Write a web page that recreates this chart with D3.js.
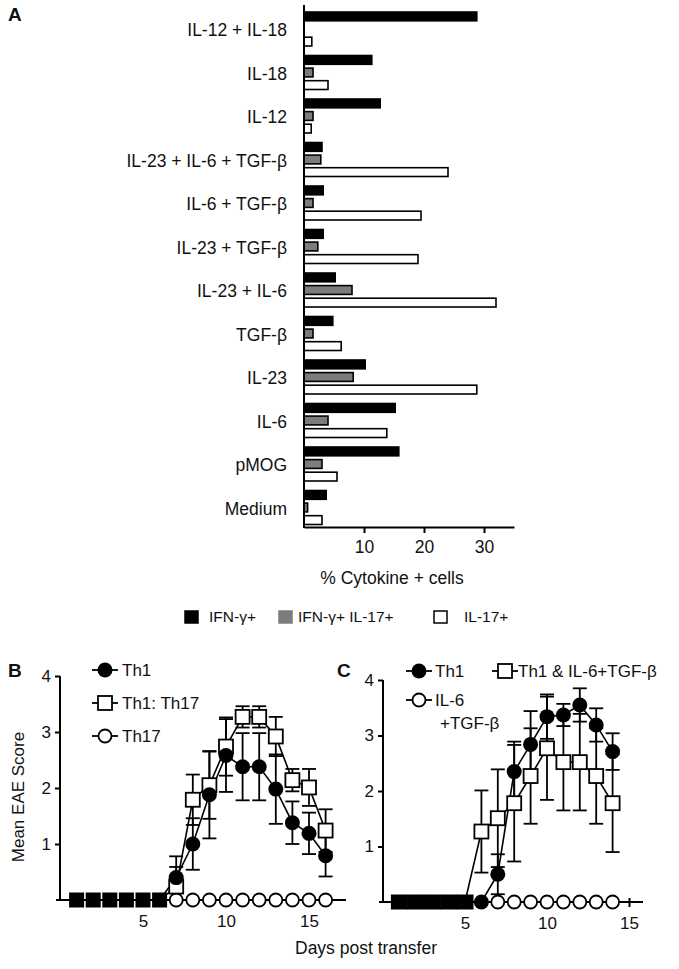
<!DOCTYPE html>
<html><head><meta charset="utf-8">
<script src="https://cdn.jsdelivr.net/npm/d3@7"></script>
<style>
body{margin:0;background:#fff}
text{font-family:"Liberation Sans",Arial,Helvetica,sans-serif;fill:#111}
</style>
</head><body>
<svg id="chart" width="679" height="969"></svg>
<script>
// ---------- Panel A data ----------
const categories = ["IL-12 + IL-18","IL-18","IL-12","IL-23 + IL-6 + TGF-β","IL-6 + TGF-β","IL-23 + TGF-β","IL-23 + IL-6","TGF-β","IL-23","IL-6","pMOG","Medium"];
const ifngPct     = [28.8, 11.3, 12.7, 3.0, 3.2, 3.2, 5.2, 4.8, 10.2, 15.2, 15.8, 3.7];
const ifngIl17Pct = [0,    1.5,  1.5,  2.8, 1.5, 2.3, 8.0, 1.5, 8.2,  4.0,  3.0,  0.6];
const il17Pct     = [1.3,  4.0,  1.2, 24.0,19.5,19.0,32.0, 6.2,28.8, 13.8,  5.5,  3.0];
const cytokineTicks = [10, 20, 30];
const legendLabels = ["IFN-γ+", "IFN-γ+ IL-17+", "IL-17+"];

// ---------- Panel B data ----------
const onsetDaysB = [1,2,3,4,5,6];
const daysB = [7,8,9,10,11,12,13,14,15,16];
const th1B      = [0.40,1.00,1.88,2.58,2.38,2.38,1.98,1.38,1.19,0.79];
const th1BErr   = [0.38,0.46,0.78,0.65,0.60,0.60,0.62,0.38,0.37,0.37];
const th1th17B    = [0.24,1.79,2.05,2.74,3.27,3.27,2.92,2.14,2.01,1.24];
const th1th17BErr = [0.35,0.45,0.60,0.52,0.19,0.19,0.35,0.20,0.33,0.38];
const th17B     = [0,0,0,0,0,0,0,0,0,0];

// ---------- Panel C data ----------
const onsetDaysC = [1,2,3,4,5];
const daysC = [6,7,8,9,10,11,12,13,14];
const th1C      = [0,0.50,2.35,2.84,3.34,3.37,3.55,3.19,2.71];
const th1CErr   = [0,0.36,0.54,0.60,0.40,0.20,0.30,0.30,0.33];
const th1MixC    = [1.27,1.51,1.78,2.27,2.77,2.52,2.52,2.27,1.78];
const th1MixCErr = [0.74,0.88,1.05,0.86,0.93,0.87,0.87,0.86,0.88];
const daysCil6 = [7,8,9,10,11,12,13,14];
const il6TgfC  = [0,0,0,0,0,0,0,0];
const eaeYTicks = [1,2,3,4];
const dayTicks = [5,10,15];

const FF = '"Liberation Sans",Arial,sans-serif';
const svg = d3.select("#chart");
svg.append("rect").attr("width",679).attr("height",969).attr("fill","#fff");

// ================= PANEL A =================
const xA = d3.scaleLinear().domain([0,35]).range([304,514]);
const yA = d3.scaleBand().domain(categories).range([12, 12 + 12*43.5]);
const keys = ["ifng","both","il17"];
const yIn = d3.scaleBand().domain(keys).range([0,34]).paddingInner(0.3);
const vals = {ifng: ifngPct, both: ifngIl17Pct, il17: il17Pct};
const fills = {ifng:"#000", both:"#7c7c7c", il17:"#fff"};

svg.append("text").attr("x",8).attr("y",21).attr("font-size",19).attr("font-weight","bold").text("A");

const gA = svg.append("g");
categories.forEach((c,i)=>{
  keys.forEach(k=>{
    const v = vals[k][i];
    if (v <= 0) return;
    gA.append("rect")
      .attr("x", xA(0)).attr("y", yA(c)+yIn(k))
      .attr("width", xA(v)-xA(0)).attr("height", yIn.bandwidth())
      .attr("fill", fills[k]).attr("stroke","#000").attr("stroke-width",1.6);
  });
  gA.append("text").attr("x",287).attr("y",yA(c)+18).attr("dy","0.35em")
    .attr("text-anchor","end").attr("font-size",17.5).text(c);
});
gA.append("line").attr("x1",xA(0)).attr("x2",xA(0)).attr("y1",5).attr("y2",528)
  .attr("stroke","#000").attr("stroke-width",2);
const axA = svg.append("g").attr("transform","translate(0,527)")
  .call(d3.axisBottom(xA).tickValues(cytokineTicks).tickSize(6).tickPadding(8).tickSizeOuter(0));
axA.selectAll("path,line").attr("stroke","#000").attr("stroke-width",2);
axA.selectAll("text").attr("font-size",17.5).attr("font-family",FF).attr("fill","#111");
svg.append("text").attr("x",392).attr("y",578).attr("dy","0.35em").attr("text-anchor","middle")
  .attr("font-size",17.5).text("% Cytokine + cells");

// legend A
const legX = [185, 279, 434], legTextX = [209, 298, 464];
keys.forEach((k,i)=>{
  svg.append("rect").attr("x",legX[i]).attr("y",611).attr("width",13).attr("height",12)
    .attr("fill",fills[k]).attr("stroke", k==="both" ? "#7c7c7c" : "#000").attr("stroke-width",1.5);
  svg.append("text").attr("x",legTextX[i]).attr("y",617).attr("dy","0.35em").attr("font-size",15.5).text(legendLabels[i]);
});

// ================= marker helper =================
function marker(g, type, cx, cy, sz){
  if (type==="fillCircle") g.append("circle").attr("cx",cx).attr("cy",cy).attr("r",7.5).attr("fill","#000");
  else if (type==="openCircle") g.append("circle").attr("cx",cx).attr("cy",cy).attr("r",6.5).attr("fill","#fff").attr("stroke","#000").attr("stroke-width",1.8);
  else if (type==="openSquare") g.append("rect").attr("x",cx-7).attr("y",cy-7).attr("width",14).attr("height",14).attr("fill","#fff").attr("stroke","#000").attr("stroke-width",1.8);
  else if (type==="fillSquare") g.append("rect").attr("x",cx-sz/2).attr("y",cy-7.5).attr("width",sz).attr("height",15).attr("fill","#000");
}

function drawPanel(cfg){
  const g = svg.append("g");
  const x = cfg.x, y = cfg.y;
  const ax = g.append("g").attr("transform",`translate(0,${y(0)})`)
    .call(d3.axisBottom(x).tickValues(dayTicks).tickSize(5).tickPadding(10).tickSizeOuter(0));
  ax.select(".domain").remove();
  g.append("line").attr("x1",x(0)-4).attr("x2",cfg.xEnd).attr("y1",y(0)).attr("y2",y(0)).attr("stroke","#000").attr("stroke-width",2);
  ax.selectAll("line").attr("stroke","#000").attr("stroke-width",2).attr("y1",-4);
  ax.selectAll("text").attr("font-size",17).attr("font-family",FF).attr("fill","#111");
  const ay = g.append("g").attr("transform",`translate(${x(0)},0)`)
    .call(d3.axisLeft(y).tickValues(eaeYTicks).tickFormat(d3.format("d")).tickSize(5).tickPadding(4).tickSizeOuter(0));
  ay.select(".domain").remove();
  g.append("line").attr("x1",x(0)).attr("x2",x(0)).attr("y1",y(4)).attr("y2",y(0)).attr("stroke","#000").attr("stroke-width",2);
  ay.selectAll("line").attr("stroke","#000").attr("stroke-width",2);
  ay.selectAll("text").attr("font-size",17).attr("font-family",FF).attr("fill","#111");

  const line = d3.line().x(d=>x(d[0])).y(d=>y(d[1]));
  cfg.series.forEach(s=>{
    const pts = cfg.onset.map(d=>[d,0]).concat(s.days.map((d,i)=>[d,s.vals[i]]));
    g.append("path").attr("d",line(pts)).attr("fill","none").attr("stroke","#000").attr("stroke-width",1.6);
  });
  cfg.series.forEach(s=>{
    if (s.err) s.days.forEach((d,i)=>{
      const e = s.err[i]; if (!e) return;
      const cx = x(d);
      const y1 = y(Math.max(0,s.vals[i]-e)), y2 = y(s.vals[i]+e);
      g.append("line").attr("x1",cx).attr("x2",cx).attr("y1",y1).attr("y2",y2).attr("stroke","#000").attr("stroke-width",1.8);
      [y1,y2].forEach(yy=>g.append("line").attr("x1",cx-7).attr("x2",cx+7).attr("y1",yy).attr("y2",yy).attr("stroke","#000").attr("stroke-width",1.8));
    });
  });
  cfg.onset.forEach(d=>marker(g,"fillSquare",x(d),y(0),cfg.onsetSize));
  cfg.series.forEach(s=>{
    s.days.forEach((d,i)=>marker(g,s.type,x(d),y(s.vals[i])));
  });
  cfg.legend.forEach(l=>{
    g.append("line").attr("x1",l.mx-13).attr("x2",l.mx+13).attr("y1",l.y).attr("y2",l.y).attr("stroke","#000").attr("stroke-width",1.8);
    marker(g,l.type,l.mx,l.y);
    l.lines.forEach((t,j)=>g.append("text").attr("x",l.tx[j]).attr("y",l.y+j*23).attr("dy","0.35em").attr("font-size",17).text(t));
  });
}

// Panel B
const xB = d3.scaleLinear().domain([0,17]).range([60, 60+17*16.6]);
const yB = d3.scaleLinear().domain([0,4]).range([900,676]);
svg.append("text").attr("x",8).attr("y",677).attr("font-size",19).attr("font-weight","bold").text("B");
drawPanel({
  x:xB, y:yB, xEnd:346, onset:onsetDaysB, onsetSize:15,
  series:[
    {days:daysB, vals:th17B, err:null, type:"openCircle"},
    {days:daysB, vals:th1th17B, err:th1th17BErr, type:"openSquare"},
    {days:daysB, vals:th1B, err:th1BErr, type:"fillCircle"}
  ],
  legend:[
    {mx:105, y:670, type:"fillCircle", lines:["Th1"], tx:[122]},
    {mx:105, y:703, type:"openSquare", lines:["Th1: Th17"], tx:[122]},
    {mx:105, y:736, type:"openCircle", lines:["Th17"], tx:[122]}
  ]
});

// Panel C
const xC = d3.scaleLinear().domain([0,16]).range([383, 383+16*16.4]);
const yC = d3.scaleLinear().domain([0,4]).range([902,680]);
svg.append("text").attr("x",337).attr("y",677).attr("font-size",19).attr("font-weight","bold").text("C");
drawPanel({
  x:xC, y:yC, xEnd:643, onset:onsetDaysC, onsetSize:17,
  series:[
    {days:daysCil6, vals:il6TgfC, err:null, type:"openCircle"},
    {days:daysC, vals:th1MixC, err:th1MixCErr, type:"openSquare"},
    {days:daysC, vals:th1C, err:th1CErr, type:"fillCircle"}
  ],
  legend:[
    {mx:419, y:671, type:"fillCircle", lines:["Th1"], tx:[435]},
    {mx:505, y:671, type:"openSquare", lines:["Th1 & IL-6+TGF-β"], tx:[518]},
    {mx:419, y:700, type:"openCircle", lines:["IL-6","+TGF-β"], tx:[435,440]}
  ]
});

svg.append("text").attr("transform","translate(18,797) rotate(-90)").attr("dy","0.35em")
  .attr("text-anchor","middle").attr("font-size",17).text("Mean EAE Score");
svg.append("text").attr("x",366).attr("y",948).attr("dy","0.35em").attr("text-anchor","middle")
  .attr("font-size",17.5).text("Days post transfer");
</script>
</body></html>
